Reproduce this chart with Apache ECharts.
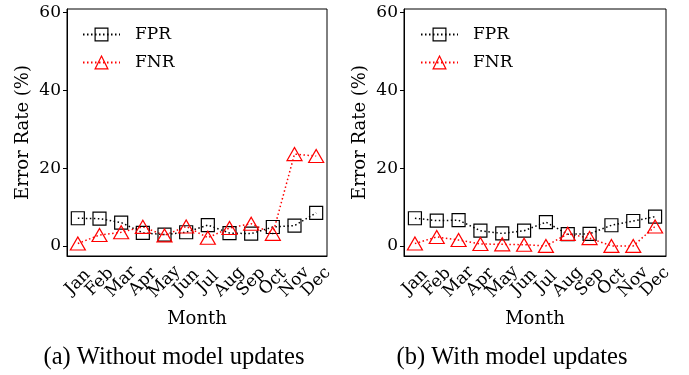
<!DOCTYPE html>
<html>
<head>
<meta charset="utf-8">
<script src="https://cdn.jsdelivr.net/npm/echarts@6/dist/echarts.min.js"></script>
<style>
  html, body { margin: 0; padding: 0; background: #fff; }
  #chart { width: 689px; height: 375px; }
</style>
</head>
<body>
<div id="chart"></div>
<script>
  // 数据
  var months = ["Jan", "Feb", "Mar", "Apr", "May", "Jun", "Jul", "Aug", "Sep", "Oct", "Nov", "Dec"];
  var yTicks = [0, 20, 40, 60];
  var fprWithout = [7.1, 7.0, 6.0, 3.35, 2.9, 3.5, 5.35, 3.3, 3.15, 4.85, 5.2, 8.5];
  var fnrWithout = [0.6, 2.8, 3.5, 4.9, 2.7, 5.0, 2.1, 4.6, 5.7, 3.1, 23.6, 23.1];
  var fprWith = [7.1, 6.5, 6.6, 3.9, 3.2, 3.9, 6.1, 3.0, 3.1, 5.3, 6.4, 7.5];
  var fnrWith = [0.6, 2.3, 1.5, 0.5, 0.4, 0.3, 0.0, 3.1, 2.0, 0.0, 0.0, 5.0];
  var captions = ["(a) Without model updates", "(b) With model updates"];

  var serif = "DejaVu Serif";

  var myChart = echarts.init(document.getElementById("chart"));

  function xAxisOf(idx) {
    return {
      type: "category",
      gridIndex: idx,
      data: months,
      name: "Month",
      nameLocation: "middle",
      nameGap: 54,
      nameTextStyle: { fontFamily: serif, fontSize: 18, color: "#000" },
      axisLine: { onZero: false, lineStyle: { color: "#000", width: 1 } },
      axisTick: { alignWithLabel: true, interval: 0, length: 4, lineStyle: { color: "#000" } },
      axisLabel: {
        interval: 0,
        rotate: 45,
        align: "center",
        verticalAlign: "middle",
        margin: 26,
        fontFamily: serif,
        fontSize: 17,
        color: "#000"
      },
      splitLine: { show: false }
    };
  }

  function yAxisOf(idx) {
    return {
      type: "value",
      gridIndex: idx,
      min: -2.6,
      max: 60.9,
      name: "Error Rate (%)",
      nameLocation: "middle",
      nameGap: 35,
      nameTextStyle: { fontFamily: serif, fontSize: 18, color: "#000" },
      axisLine: { show: true, onZero: false, lineStyle: { color: "#000", width: 1 } },
      axisTick: { show: true, length: 4, customValues: yTicks, lineStyle: { color: "#000" } },
      axisLabel: { customValues: yTicks, fontFamily: serif, fontSize: 17, color: "#000", margin: 6 },
      splitLine: { show: false }
    };
  }

  function fprSeries(idx, values) {
    return {
      name: "FPR",
      type: "line",
      xAxisIndex: idx,
      yAxisIndex: idx,
      data: values,
      symbol: "rect",
      symbolSize: 13,
      lineStyle: { color: "#000", width: 1.5, type: [1.5, 2.5] },
      itemStyle: { color: "transparent", borderColor: "#000", borderWidth: 1.2 },
      emphasis: { disabled: true },
      animation: false
    };
  }

  function fnrSeries(idx, values) {
    return {
      name: "FNR",
      type: "line",
      xAxisIndex: idx,
      yAxisIndex: idx,
      data: values,
      symbol: "triangle",
      symbolSize: [15, 13],
      lineStyle: { color: "#ff0000", width: 1.5, type: [1.5, 2.5] },
      itemStyle: { color: "transparent", borderColor: "#ff0000", borderWidth: 1.2 },
      emphasis: { disabled: true },
      animation: false
    };
  }

  function legendAt(left) {
    return {
      orient: "vertical",
      left: left,
      top: 26,
      padding: 0,
      itemWidth: 37,
      itemHeight: 16,
      itemGap: 11,
      selectedMode: false,
      data: ["FPR", "FNR"],
      itemStyle: { borderWidth: 1.2 },
      textStyle: { fontFamily: serif, fontSize: 17, color: "#000", padding: [0, 0, 0, 10] }
    };
  }

  var option = {
    backgroundColor: "#fff",
    animation: false,
    grid: [
      { left: 67, top: 9, width: 260, height: 247, show: true, borderColor: "#000", borderWidth: 1, backgroundColor: "transparent" },
      { left: 404, top: 9, width: 262, height: 247, show: true, borderColor: "#000", borderWidth: 1, backgroundColor: "transparent" }
    ],
    legend: [legendAt(82), legendAt(420)],
    xAxis: [xAxisOf(0), xAxisOf(1)],
    yAxis: [yAxisOf(0), yAxisOf(1)],
    series: [
      fprSeries(0, fprWithout),
      fnrSeries(0, fnrWithout),
      fprSeries(1, fprWith),
      fnrSeries(1, fnrWith)
    ],
    graphic: [
      {
        type: "text", x: 174, y: 358,
        style: { text: captions[0], font: '24.5px "Liberation Serif"', align: "center", verticalAlign: "middle", fill: "#000" }
      },
      {
        type: "text", x: 512, y: 358,
        style: { text: captions[1], font: '24.5px "Liberation Serif"', align: "center", verticalAlign: "middle", fill: "#000" }
      }
    ]
  };

  myChart.setOption(option);
  window.addEventListener("resize", function() {
    myChart.resize();
  });
</script>
</body>
</html>
